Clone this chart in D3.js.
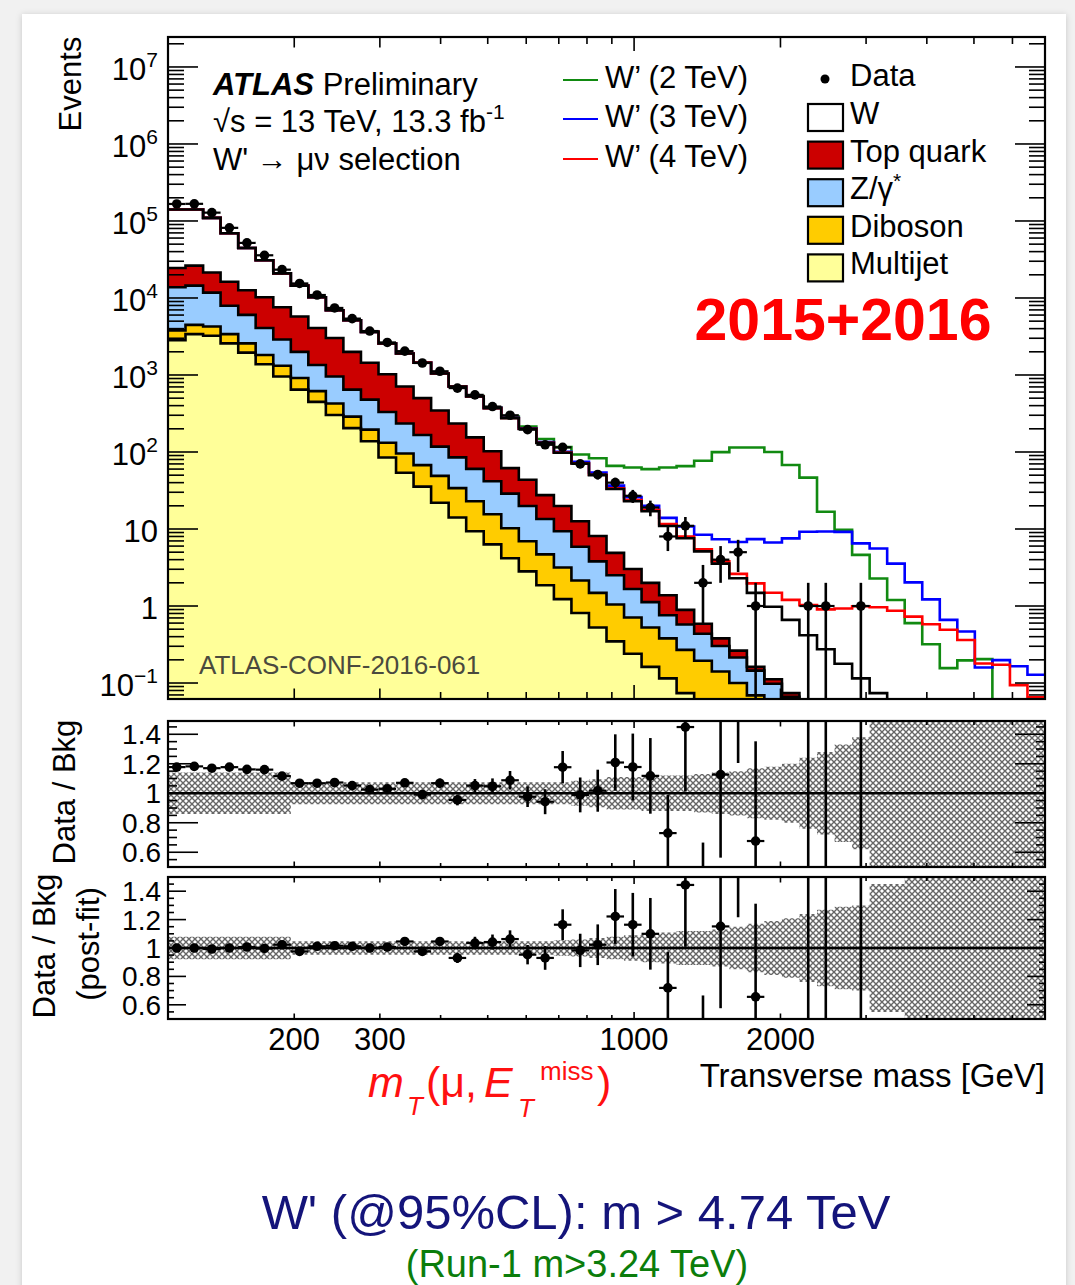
<!DOCTYPE html>
<html>
<head>
<meta charset="utf-8">
<script src="https://cdn.jsdelivr.net/npm/d3@7"></script>
<style>
  html, body { margin: 0; padding: 0; background: #f1f1f1; }
  svg { display: block; }
  text { font-family: "Liberation Sans", Arial, Helvetica, sans-serif; }
</style>
</head>
<body>
<svg id="chart" width="1075" height="1285"></svg>
<script>
const width = 1075;
const height = 1285;

// Data. 50 log-spaced bins in transverse mass [GeV].
const binEdges = [110, 119.5, 129.9, 141.1, 153.4, 166.6, 181.1, 196.8, 213.8, 232.3,
  252.4, 274.3, 298.1, 323.9, 351.9, 382.4, 415.5, 451.5, 490.6, 533.1,
  579.3, 629.5, 684, 743.2, 807.6, 877.5, 953.5, 1036, 1126, 1223,
  1329, 1445, 1570, 1706, 1853, 2014, 2188, 2378, 2584, 2808,
  3051, 3315, 3602, 3914, 4253, 4621, 5021, 5456, 5929, 6442, 7000];

// Background components, events per bin (stacked bottom to top).
const multijet = [2820, 3390, 3240, 2570, 1950, 1380, 955, 646, 447, 302,
  204, 138, 85, 53.7, 35.5, 21.9, 14.1, 9.33, 6.31, 4.17,
  2.82, 1.86, 1.23, 0.813, 0.525, 0.347, 0.24, 0.162, 0.115, 0.074,
  0.045, 0.028, 0.018, 0.012, 0.008, 0.005, 0.003, 0.002, 0.001, 0.001,
  0.001, 0, 0, 0, 0, 0, 0, 0, 0, 0];
const diboson = [980, 1080, 1030, 820, 620, 440, 363, 266, 170, 125,
  84, 57, 46.7, 41.8, 32.1, 27.1, 19.8, 13.6, 9.2, 6.06,
  4.1, 2.82, 1.93, 1.33, 0.955, 0.7, 0.468, 0.363, 0.265, 0.195,
  0.15, 0.113, 0.082, 0.057, 0.037, 0.025, 0.017, 0.011, 0.007, 0.005,
  0.003, 0.002, 0.001, 0.001, 0, 0, 0, 0, 0, 0];
const zgamma = [10000, 9990, 7480, 4555, 3456, 2254, 1566, 1083, 732, 528,
  358, 284, 199, 138.5, 98.4, 68.5, 51.2, 37.4, 26.2, 18.6,
  13.0, 8.81, 6.17, 3.75, 2.32, 1.46, 0.952, 0.597, 0.379, 0.306,
  0.242, 0.161, 0.114, 0.076, 0.053, 0.036, 0.02, 0.013, 0.008, 0.005,
  0.003, 0.002, 0.001, 0.001, 0, 0, 0, 0, 0, 0];
const topQuark = [10740, 11850, 9630, 8275, 6563, 6159, 4702, 3759, 2725, 2065,
  1349, 966, 692, 474, 335, 229, 149, 94.6, 60.6, 32.9,
  23.7, 14.05, 10.6, 6.7, 4.33, 2.39, 1.36, 0.873, 0.621, 0.316,
  0.152, 0.078, 0.049, 0.017, 0.014, 0.008, 0.005, 0.003, 0.002, 0.001,
  0.001, 0, 0, 0, 0, 0, 0, 0, 0, 0];
const wBoson = [116700, 114950, 88270, 52965, 32080, 20670, 13307, 8700, 6159, 3898,
  3134, 2186, 1547, 1197, 944, 700, 474, 370, 269, 214,
  156, 104, 77.8, 58.2, 42.0, 28.2, 19.9, 15.0, 9.58, 6.7,
  4.54, 3.17, 2.03, 1.317, 0.865, 0.587, 0.372, 0.246, 0.16, 0.103,
  0.066, 0.042, 0.027, 0.017, 0.011, 0.007, 0.004, 0.003, 0.002, 0.001];

// Observed events per bin (0 = empty bin, not drawn).
const dataCounts = [166300, 167000, 128300, 81430, 51900, 35850, 23320, 15440, 10930, 7423,
  5396, 3722, 2647, 2040, 1432, 1118, 676, 552, 389, 300,
  195, 124, 115, 70, 51, 40, 27, 19, 8, 11,
  2, 4, 5, 1, 0, 0, 1, 1, 0, 1,
  0, 0, 0, 0, 0, 0, 0, 0, 0, 0];

// W' signals, events per bin, drawn stacked on the total background.
const wprime2 = [1, 1, 1, 1, 2, 2, 2, 3, 3, 3,
  4, 4, 5, 5, 6, 6, 7, 8, 10, 12,
  14, 16, 18, 22, 33, 33, 40, 43, 52, 58,
  72, 96, 112, 113, 99, 67, 46, 16.5, 9.6, 4.5,
  2.2, 1.15, 0.57, 0.3, 0.145, 0.19, 0.2, 0, 0, 0];
const wprime3 = [0.3, 0.3, 0.3, 0.4, 0.4, 0.5, 0.5, 0.6, 0.7, 0.8,
  0.9, 1, 1.2, 1.4, 1.6, 1.8, 2, 2.2, 2.5, 3,
  3, 3, 3, 4, 4, 3.5, 3, 3, 3, 3.2,
  3.3, 3.8, 4.5, 5.9, 5.7, 6.9, 8.8, 9.0, 9.0, 6.4,
  5.5, 3.5, 2.0, 1.2, 0.65, 0.46, 0.155, 0.195, 0.163, 0.127];
const wprime4 = [0.1, 0.1, 0.1, 0.1, 0.1, 0.1, 0.1, 0.1, 0.2, 0.2,
  0.2, 0.2, 0.2, 0.3, 0.3, 0.3, 0.3, 0.4, 0.4, 0.4,
  0.5, 0.5, 0.5, 0.5, 0.5, 0.6, 0.8, 0.8, 0.6, 0.4,
  0.31, 0.25, 0.32, 0.49, 0.51, 0.54, 0.61, 0.63, 0.75, 0.88,
  0.89, 0.82, 0.70, 0.56, 0.48, 0.355, 0.175, 0.17, 0.092, 0.064];

// Data / post-fit background.
const postFitRatio = [1.0, 1.0, 0.993, 1.0, 1.007, 0.997, 1.023, 0.976, 1.012, 1.016,
  1.012, 1.0, 1.007, 1.046, 0.976, 1.046, 0.93, 1.035, 1.042, 1.063,
  0.953, 0.93, 1.164, 0.983, 1.023, 1.222, 1.164, 1.1, 0.719, 1.444,
  0.39, 1.152, 2.2, 0.656, null, null, 2.4, 3.6, null, 8.7,
  null, null, null, null, null, null, null, null, null, null];

// Relative background uncertainty (hatched bands).
const bkgUncPre = [0.14, 0.14, 0.14, 0.14, 0.14, 0.14, 0.14, 0.075, 0.075, 0.075,
  0.075, 0.075, 0.075, 0.075, 0.075, 0.075, 0.075, 0.075, 0.075, 0.075,
  0.075, 0.075, 0.075, 0.085, 0.095, 0.11, 0.11, 0.12, 0.12, 0.12,
  0.13, 0.14, 0.15, 0.17, 0.18, 0.2, 0.24, 0.28, 0.33, 0.38,
  1, 1, 1, 1, 1, 1, 1, 1, 1, 1];
const bkgUncPost = [0.08, 0.08, 0.08, 0.08, 0.08, 0.08, 0.08, 0.047, 0.047, 0.047,
  0.047, 0.047, 0.047, 0.047, 0.047, 0.047, 0.047, 0.047, 0.047, 0.047,
  0.047, 0.047, 0.055, 0.06, 0.07, 0.08, 0.09, 0.1, 0.11, 0.12,
  0.12, 0.13, 0.15, 0.17, 0.19, 0.21, 0.24, 0.27, 0.29, 0.30,
  0.45, 0.45, 1, 1, 1, 1, 1, 1, 1, 1];

const xTickVals = [200, 300, 400, 500, 600, 700, 800, 900, 1000, 2000, 3000, 4000, 5000, 6000];
const xTickLabels = [200, 300, 1000, 2000];
const yTickExps = [-1, 0, 1, 2, 3, 4, 5, 6, 7];
const ratioTicks = [0.6, 0.8, 1, 1.2, 1.4];

const stackKeys = ["multijet", "diboson", "zgamma", "top", "w"];
const stackColours = { w: "#ffffff", top: "#cc0000", zgamma: "#99ccff", diboson: "#ffcc00", multijet: "#ffff99" };

// Layout.
const left = 168, right = 1045;
const main = { top: 37, bottom: 699 };
const r1 = { top: 721, bottom: 867 };
const r2 = { top: 877, bottom: 1019 };
const FLOOR = 0.02;

const svg = d3.select("#chart");
const defs = svg.append("defs");

// Slide card.
const shadow = defs.append("filter").attr("id", "shadow").attr("x", "-5%").attr("y", "-5%").attr("width", "110%").attr("height", "110%");
shadow.append("feDropShadow").attr("dx", 0).attr("dy", 1).attr("stdDeviation", 3).attr("flood-color", "#000").attr("flood-opacity", 0.18);
svg.append("rect").attr("x", 22).attr("y", 14).attr("width", 1044).attr("height", 1300)
  .attr("fill", "#fff").attr("filter", "url(#shadow)");

const hatch = defs.append("pattern").attr("id", "hatch").attr("patternUnits", "userSpaceOnUse")
  .attr("width", 6).attr("height", 6);
hatch.append("path").attr("d", "M-1,-1L7,7M7,-1L-1,7").attr("stroke", "#666").attr("stroke-width", 1.4);

[["clipMain", main], ["clipR1", r1], ["clipR2", r2]].forEach(([id, p]) => {
  defs.append("clipPath").attr("id", id).append("rect")
    .attr("x", left).attr("y", p.top).attr("width", right - left).attr("height", p.bottom - p.top);
});

// Scales.
const x = d3.scaleLog().domain([110, 7000]).range([left, right]);
const y = d3.scaleLog().domain([0.062, 2.45e7]).range([main.bottom, main.top]);
const yr1 = d3.scaleLinear().domain([0.5, 1.49]).range([r1.bottom, r1.top]);
const yr2 = d3.scaleLinear().domain([0.5, 1.5]).range([r2.bottom, r2.top]);

const bins = d3.range(50).map(i => ({
  lo: binEdges[i], hi: binEdges[i + 1],
  multijet: multijet[i], diboson: diboson[i], zgamma: zgamma[i], top: topQuark[i], w: wBoson[i]
}));
const stacked = d3.stack().keys(stackKeys)(bins);
const total = stacked[stackKeys.length - 1].map(d => d[1]);
const centre = i => Math.sqrt(binEdges[i] * binEdges[i + 1]);

const stepPts = (vals, ys) => {
  const pts = vals.map((v, i) => [x(binEdges[i]), ys(v)]);
  pts.push([x(binEdges[50]), ys(vals[49])]);
  return pts;
};
const yMain = v => y(Math.max(v, FLOOR));
const stepLine = d3.line().curve(d3.curveStepAfter);

// ---------- Main panel ----------
const gMain = svg.append("g").attr("clip-path", "url(#clipMain)");

// Fills, painted from the top layer down.
for (let k = stacked.length - 1; k >= 0; k--) {
  const layer = stacked[k];
  const area = d3.area().curve(d3.curveStepAfter).x(d => d[0]).y0(main.bottom + 40).y1(d => d[1]);
  gMain.append("path")
    .attr("d", area(stepPts(layer.map(d => d[1]), yMain)))
    .attr("fill", stackColours[layer.key]);
}

// Signals stacked on background.
[[wprime2, "#118a11"], [wprime3, "#0000ff"], [wprime4, "#ff0000"]].forEach(([sig, col]) => {
  gMain.append("path")
    .attr("d", stepLine(stepPts(sig.map((s, i) => s + total[i]), yMain)))
    .attr("fill", "none").attr("stroke", col).attr("stroke-width", 2.6);
});

// Outlines.
stacked.forEach(layer => {
  gMain.append("path")
    .attr("d", stepLine(stepPts(layer.map(d => d[1]), yMain)))
    .attr("fill", "none").attr("stroke", "#000").attr("stroke-width", 2.6);
});

gMain.append("text").attr("x", 199).attr("y", 674)
  .attr("font-family", "'DejaVu Sans Condensed', 'DejaVu Sans', sans-serif")
  .attr("font-stretch", "condensed")
  .attr("font-size", 26).attr("fill", "#4a4a3e").text("ATLAS-CONF-2016-061");

// Data points.
const drawPoints = (g, ys, valueOf, errOf, r) => {
  dataCounts.forEach((n, i) => {
    if (!n) return;
    const v = valueOf(i), e = errOf(i);
    const cx = x(centre(i)), cy = ys(v);
    g.append("line").attr("x1", cx).attr("x2", cx)
      .attr("y1", ys(v + e)).attr("y2", ys(v - e))
      .attr("stroke", "#000").attr("stroke-width", 2.6);
    g.append("line").attr("x1", x(binEdges[i])).attr("x2", x(binEdges[i + 1]))
      .attr("y1", cy).attr("y2", cy).attr("stroke", "#000").attr("stroke-width", 2.2);
    g.append("circle").attr("cx", cx).attr("cy", cy).attr("r", r).attr("fill", "#000");
  });
};
drawPoints(gMain, yMain, i => dataCounts[i], i => Math.sqrt(dataCounts[i]), 4.8);

// ---------- Ratio panels ----------
const drawRatio = (p, ys, clipId, unc, valueOf, errOf) => {
  const g = svg.append("g").attr("clip-path", `url(#${clipId})`);
  const band = d3.area().curve(d3.curveStepAfter).x(d => d[0]).y0(d => d[1]).y1(d => d[2]);
  const pts = unc.map((u, i) => [x(binEdges[i]), ys(1 - u), ys(1 + u)]);
  pts.push([x(binEdges[50]), ys(1 - unc[49]), ys(1 + unc[49])]);
  g.append("path").attr("d", band(pts)).attr("fill", "url(#hatch)");
  g.append("line").attr("x1", left).attr("x2", right).attr("y1", ys(1)).attr("y2", ys(1))
    .attr("stroke", "#000").attr("stroke-width", 2.4);
  drawPoints(g, ys, valueOf, errOf, 4.8);
};
drawRatio(r1, yr1, "clipR1", bkgUncPre,
  i => dataCounts[i] / total[i], i => Math.sqrt(dataCounts[i]) / total[i]);
drawRatio(r2, yr2, "clipR2", bkgUncPost,
  i => postFitRatio[i], i => postFitRatio[i] / Math.sqrt(dataCounts[i]));

// ---------- Frames and ticks ----------
const axes = svg.append("g").attr("stroke", "#000").attr("fill", "none");
const tick = (x1, y1, x2, y2, w) => axes.append("line")
  .attr("x1", x1).attr("y1", y1).attr("x2", x2).attr("y2", y2).attr("stroke-width", w || 1.6);

const xTicks = (p, major, minor) => {
  xTickVals.forEach(v => {
    const len = v === 1000 ? major : (xTickLabels.includes(v) ? (major + minor) / 2 : minor);
    tick(x(v), p.bottom, x(v), p.bottom - len);
    tick(x(v), p.top, x(v), p.top + len);
  });
};

// Main y ticks (log).
d3.range(-2, 8).forEach(e => {
  d3.range(1, 10).forEach(m => {
    const v = m * Math.pow(10, e);
    if (v < y.domain()[0] || v > y.domain()[1]) return;
    const len = m === 1 ? 30 : 16;
    tick(left, y(v), left + len, y(v));
    tick(right, y(v), right - len, y(v));
  });
});
xTicks(main, 14, 7);

// Ratio y ticks.
[[r1, yr1, 30, 9], [r2, yr2, 18, 6]].forEach(([p, ys, major, minor]) => {
  d3.range(10, 30).forEach(k => {
    const v = k * 0.05;
    if (v < ys.domain()[0] || v > ys.domain()[1]) return;
    const len = k % 4 === 0 ? major : minor;
    tick(left, ys(v), left + len, ys(v));
    tick(right, ys(v), right - len, ys(v));
  });
  xTicks(p, 7, 4);
});

[main, r1, r2].forEach(p => {
  axes.append("rect").attr("x", left).attr("y", p.top)
    .attr("width", right - left).attr("height", p.bottom - p.top).attr("stroke-width", 2.2);
});

// ---------- Labels ----------
const txt = svg.append("g").attr("fill", "#000").attr("font-size", 31);

yTickExps.forEach(e => {
  const t = txt.append("text").attr("x", 158).attr("y", y(Math.pow(10, e)) + 13).attr("text-anchor", "end");
  if (e === 0) t.text("1");
  else if (e === 1) t.text("10");
  else {
    t.append("tspan").text("10");
    t.append("tspan").attr("font-size", 21).attr("dy", -13).text(e < 0 ? "\u2212" + (-e) : e);
  }
});

[yr1, yr2].forEach(ys => {
  ratioTicks.forEach(v => {
    txt.append("text").attr("x", 161).attr("y", ys(v) + 10).attr("text-anchor", "end")
      .attr("font-size", 28).text(v === 1 ? "1" : d3.format(".1f")(v));
  });
});

xTickLabels.forEach(v => {
  txt.append("text").attr("x", x(v)).attr("y", 1050).attr("text-anchor", "middle").text(v);
});

const vtext = (cx, cy, s) => txt.append("text")
  .attr("transform", `translate(${cx},${cy}) rotate(-90)`).attr("text-anchor", "middle").text(s);
vtext(81, 84, "Events");
vtext(75, 792, "Data / Bkg");
vtext(55, 946, "Data / Bkg");
vtext(99, 944, "(post-fit)");

txt.append("text").attr("x", 1045).attr("y", 1087).attr("text-anchor", "end").attr("font-size", 33)
  .text("Transverse mass [GeV]");

// ATLAS label.
const atlas = txt.append("text").attr("x", 213).attr("y", 95);
atlas.append("tspan").attr("font-weight", "bold").attr("font-style", "italic").text("ATLAS");
atlas.append("tspan").text(" Preliminary");
const lumi = txt.append("text").attr("x", 213).attr("y", 132);
lumi.append("tspan").text("\u221As = 13 TeV, 13.3 fb");
lumi.append("tspan").attr("font-size", 21).attr("dy", -13).text("-1");
txt.append("text").attr("x", 213).attr("y", 170).text("W' \u2192 \u03BC\u03BD selection");

// Legends.
const sigLegend = [["W\u2019 (2 TeV)", "#118a11", 80], ["W\u2019 (3 TeV)", "#0000ff", 119], ["W\u2019 (4 TeV)", "#ff0000", 159]];
sigLegend.forEach(([label, col, ly]) => {
  svg.append("line").attr("x1", 563).attr("x2", 598).attr("y1", ly).attr("y2", ly)
    .attr("stroke", col).attr("stroke-width", 2);
  txt.append("text").attr("x", 605).attr("y", ly + 8).text(label);
});

svg.append("circle").attr("cx", 825).attr("cy", 79).attr("r", 4.5).attr("fill", "#000");
txt.append("text").attr("x", 850).attr("y", 86).text("Data");

const bkgLegend = [["W", "w"], ["Top quark", "top"], ["Z/\u03B3", "zgamma"], ["Diboson", "diboson"], ["Multijet", "multijet"]];
bkgLegend.forEach(([label, key], j) => {
  const by = 104 + j * 37.6;
  svg.append("rect").attr("x", 808).attr("y", by).attr("width", 35).attr("height", 27)
    .attr("fill", stackColours[key]).attr("stroke", "#000").attr("stroke-width", 2.2);
  const t = txt.append("text").attr("x", 850).attr("y", by + 20).text(label);
  if (key === "zgamma") t.append("tspan").attr("font-size", 21).attr("dy", -11).text("*");
});

svg.append("text").attr("x", 843).attr("y", 340).attr("text-anchor", "middle")
  .attr("font-size", 59).attr("font-weight", "bold").attr("fill", "#ff0000").text("2015+2016");

// Red variable label m_T(mu, E_T^miss).
const cond = "'DejaVu Sans Condensed', 'DejaVu Sans', sans-serif";
const mt = svg.append("text").attr("fill", "#ff1010").attr("font-family", cond)
  .attr("font-stretch", "condensed").attr("font-size", 43);
mt.append("tspan").attr("x", 368).attr("y", 1097).attr("font-style", "italic").text("m");
mt.append("tspan").attr("x", 407).attr("y", 1115).attr("font-size", 26).attr("font-style", "italic").text("T");
mt.append("tspan").attr("x", 426).attr("y", 1097).text("(\u03BC,");
mt.append("tspan").attr("x", 484).attr("y", 1097).attr("font-style", "italic").text("E");
mt.append("tspan").attr("x", 518).attr("y", 1117).attr("font-size", 26).attr("font-style", "italic").text("T");
mt.append("tspan").attr("x", 540).attr("y", 1080).attr("font-size", 26).text("miss");
mt.append("tspan").attr("x", 597).attr("y", 1097).text(")");

// Bottom summary.
svg.append("text").attr("x", 576).attr("y", 1229).attr("text-anchor", "middle")
  .attr("font-family", cond).attr("font-stretch", "condensed").attr("font-size", 49).attr("fill", "#14147a")
  .text("W' (@95%CL): m > 4.74 TeV");
svg.append("text").attr("x", 577).attr("y", 1277).attr("text-anchor", "middle")
  .attr("font-family", cond).attr("font-stretch", "condensed").attr("font-size", 38).attr("fill", "#0b7d0b")
  .text("(Run-1 m>3.24 TeV)");
</script>
</body>
</html>
